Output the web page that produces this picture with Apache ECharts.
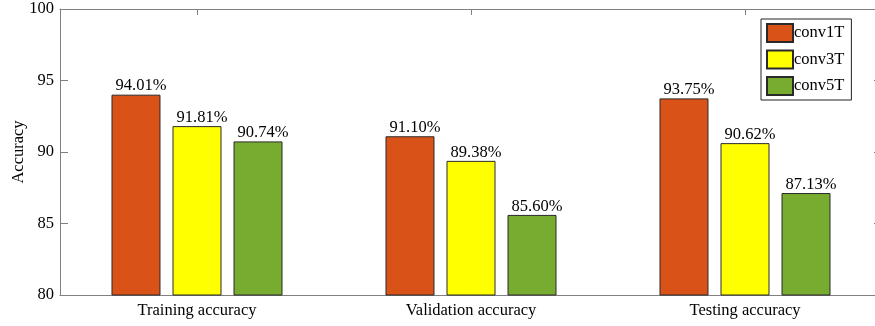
<!DOCTYPE html>
<html><head><meta charset="utf-8">
<script src="https://cdn.jsdelivr.net/npm/echarts@6/dist/echarts.min.js"></script>
<style>html,body{margin:0;padding:0;background:#fff}#c{width:875px;height:326px}</style>
</head><body><div id="c"></div>
<script>
const categories = ['Training accuracy', 'Validation accuracy', 'Testing accuracy'];
const seriesNames = ['conv1T', 'conv3T', 'conv5T'];
const conv1T = [94.01, 91.10, 93.75];
const conv3T = [91.81, 89.38, 90.62];
const conv5T = [90.74, 85.60, 87.13];
const yTicks = [80, 85, 90, 95, 100];
const colors = ['#D95319', '#FFFF00', '#77AC30'];

const font = 'Liberation Serif, Times New Roman, serif';
const fs = 16.5;
const axisColor = '#808080';
const chart = echarts.init(document.getElementById('c'), null, {renderer: 'canvas'});
const data = [conv1T, conv3T, conv5T];
chart.setOption({
  animation: false,
  textStyle: {fontFamily: font},
  grid: {left: 60, top: 9, width: 822, height: 286, containLabel: false, outerBoundsMode: 'none'},
  legend: {
    orient: 'vertical', left: 761, top: 19,
    data: seriesNames.map(n => ({name: n, icon: 'rect'})),
    itemWidth: 26, itemHeight: 18, itemGap: 6.5,
    padding: [4, 7, 4, 5],
    borderColor: '#222', borderWidth: 1, backgroundColor: '#fff',
    textStyle: {fontFamily: font, fontSize: fs, color: '#000', padding: [0, 0, 0, -4]}
  },
  xAxis: [{
    type: 'category', data: categories, position: 'bottom',
    axisLine: {lineStyle: {color: axisColor, width: 1}},
    axisTick: {show: false},
    axisLabel: {fontFamily: font, fontSize: fs, color: '#000', margin: 7}
  }, {
    type: 'category', data: categories, position: 'top',
    axisLine: {show: true, lineStyle: {color: axisColor, width: 1}},
    axisTick: {show: true, inside: true, alignWithLabel: true, length: 6, lineStyle: {color: axisColor}},
    axisLabel: {show: false}
  }],
  yAxis: [{
    type: 'value', min: 80, max: 100, interval: 5,
    name: 'Accuracy', nameLocation: 'middle', nameGap: 33, nameRotate: 90,
    nameMoveOverlap: false,
    nameTextStyle: {fontFamily: font, fontSize: fs, color: '#000'},
    axisLine: {show: true, lineStyle: {color: axisColor, width: 1}},
    axisTick: {show: true, inside: true, length: 8, lineStyle: {color: axisColor}},
    axisLabel: {fontFamily: font, fontSize: fs, color: '#000', margin: 6,
      formatter: v => yTicks.includes(v) ? String(v) : ''},
    splitLine: {show: false}
  }, {
    type: 'value', min: 80, max: 100, interval: 5, position: 'right',
    axisLine: {show: true, lineStyle: {color: axisColor, width: 1}},
    axisTick: {show: true, inside: true, length: 8, lineStyle: {color: axisColor}},
    axisLabel: {show: false}, splitLine: {show: false}
  }],
  series: seriesNames.map((n, i) => ({
    name: n, type: 'bar', data: data[i], xAxisIndex: 0, yAxisIndex: 0,
    barWidth: 49, barGap: '24.5%',
    itemStyle: {color: colors[i], borderColor: '#2a2a2a', borderWidth: 1},
    label: {show: true, position: 'top', distance: 0, offset: [5, 0],
      fontFamily: font, fontSize: fs, color: '#000',
      formatter: p => p.value.toFixed(2) + '%'}
  }))
});
</script></body></html>
